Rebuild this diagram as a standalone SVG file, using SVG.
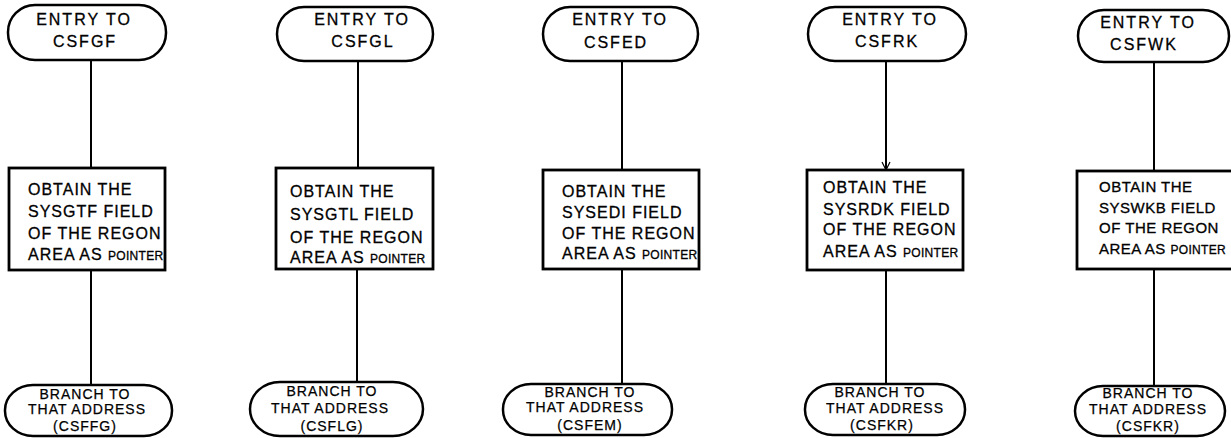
<svg xmlns="http://www.w3.org/2000/svg" width="1231" height="438" viewBox="0 0 1231 438">
<style>
.term{fill:#fff;stroke:#000;stroke-width:2.5}
.box{fill:#fff;stroke:#000;stroke-width:2.8}
.ln{stroke:#000;stroke-width:2;fill:none}
.t{font-family:"Liberation Sans",Arial,sans-serif;fill:#000;font-size:16px;letter-spacing:2px;text-anchor:middle;stroke:#000;stroke-width:0.3}
.b{font-family:"Liberation Sans",Arial,sans-serif;fill:#000;font-size:16px;letter-spacing:1px;stroke:#000;stroke-width:0.3}
.b5{font-size:15px;letter-spacing:0.5px}
.s{font-size:12px;letter-spacing:0.3px}
.o{font-family:"Liberation Sans",Arial,sans-serif;fill:#000;font-size:14px;letter-spacing:1px;text-anchor:middle;stroke:#000;stroke-width:0.25}
</style>
<defs>
<marker id="ah" markerWidth="10" markerHeight="10" refX="9" refY="5" orient="auto" markerUnits="userSpaceOnUse">
<path d="M1,1 L9,5 L1,9" fill="none" stroke="#000" stroke-width="1.2"/>
</marker>
</defs>
<g id="connectors">
<line class="ln" x1="91" y1="60" x2="91" y2="168"/>
<line class="ln" x1="91" y1="270" x2="91" y2="386"/>
<line class="ln" x1="358" y1="61" x2="358" y2="168"/>
<line class="ln" x1="357" y1="269" x2="357" y2="382"/>
<line class="ln" x1="622" y1="61" x2="622" y2="170"/>
<line class="ln" x1="622" y1="269" x2="622" y2="384"/>
<line class="ln" x1="886" y1="61" x2="886" y2="170" marker-end="url(#ah)"/>
<line class="ln" x1="886" y1="270" x2="886" y2="384"/>
<line class="ln" x1="1154" y1="62" x2="1154" y2="171"/>
<line class="ln" x1="1154" y1="269" x2="1154" y2="386"/>
</g>
<g id="entry1"><rect class="term" x="8" y="5" width="158" height="55" rx="27"/>
<text class="t" x="84" y="25">ENTRY TO</text><text class="t" x="85" y="47">CSFGF</text></g>
<g id="entry2"><rect class="term" x="277" y="7" width="156" height="54" rx="27"/>
<text class="t" x="362" y="25">ENTRY TO</text><text class="t" x="363" y="47">CSFGL</text></g>
<g id="entry3"><rect class="term" x="543" y="7" width="155" height="54" rx="27"/>
<text class="t" x="620" y="25">ENTRY TO</text><text class="t" x="616" y="48">CSFED</text></g>
<g id="entry4"><rect class="term" x="808" y="7" width="158" height="54" rx="27"/>
<text class="t" x="890" y="25">ENTRY TO</text><text class="t" x="887" y="47">CSFRK</text></g>
<g id="entry5"><rect class="term" x="1078" y="10" width="151" height="52" rx="26"/>
<text class="t" x="1148" y="28">ENTRY TO</text><text class="t" x="1144" y="50">CSFWK</text></g>
<g id="obtain1"><rect class="box" x="9" y="168" width="156" height="102"/>
<text class="b" x="28" y="195">OBTAIN THE</text><text class="b" x="28" y="217">SYSGTF FIELD</text><text class="b" x="28" y="239">OF THE REGON</text><text class="b" x="28" y="260">AREA AS <tspan class="s">POINTER</tspan></text></g>
<g id="obtain2"><rect class="box" x="276" y="168" width="157" height="101"/>
<text class="b" x="290" y="197">OBTAIN THE</text><text class="b" x="290" y="220">SYSGTL FIELD</text><text class="b" x="290" y="243">OF THE REGON</text><text class="b" x="290" y="263">AREA AS <tspan class="s">POINTER</tspan></text></g>
<g id="obtain3"><rect class="box" x="543" y="170" width="156" height="99"/>
<text class="b" x="562" y="197">OBTAIN THE</text><text class="b" x="562" y="218">SYSEDI FIELD</text><text class="b" x="562" y="239">OF THE REGON</text><text class="b" x="562" y="259">AREA AS <tspan class="s">POINTER</tspan></text></g>
<g id="obtain4"><rect class="box" x="807" y="170" width="156" height="100"/>
<text class="b" x="823" y="193">OBTAIN THE</text><text class="b" x="823" y="215">SYSRDK FIELD</text><text class="b" x="823" y="235">OF THE REGON</text><text class="b" x="823" y="257">AREA AS <tspan class="s">POINTER</tspan></text></g>
<g id="obtain5"><rect class="box" x="1077" y="171" width="170" height="98"/>
<text class="b b5" x="1099" y="192">OBTAIN THE</text><text class="b b5" x="1099" y="213">SYSWKB FIELD</text><text class="b b5" x="1099" y="233">OF THE REGON</text><text class="b b5" x="1099" y="254">AREA AS <tspan class="s">POINTER</tspan></text></g>
<g id="branch1"><rect class="term" x="5" y="385" width="167" height="51" rx="28" ry="25"/>
<text class="o" x="85" y="399">BRANCH TO</text><text class="o" x="87" y="414">THAT ADDRESS</text><text class="o" x="85" y="431">(CSFFG)</text></g>
<g id="branch2"><rect class="term" x="250" y="382" width="173" height="54" rx="30" ry="27"/>
<text class="o" x="332" y="396">BRANCH TO</text><text class="o" x="330" y="413">THAT ADDRESS</text><text class="o" x="332" y="431">(CSFLG)</text></g>
<g id="branch3"><rect class="term" x="503" y="384" width="169" height="51" rx="28" ry="25"/>
<text class="o" x="590" y="397">BRANCH TO</text><text class="o" x="585" y="412">THAT ADDRESS</text><text class="o" x="590" y="430">(CSFEM)</text></g>
<g id="branch4"><rect class="term" x="805" y="384" width="160" height="51" rx="28" ry="25"/>
<text class="o" x="880" y="397">BRANCH TO</text><text class="o" x="885" y="413">THAT ADDRESS</text><text class="o" x="882" y="430">(CSFKR)</text></g>
<g id="branch5"><rect class="term" x="1075" y="386" width="150" height="50" rx="28" ry="25"/>
<text class="o" x="1148" y="398">BRANCH TO</text><text class="o" x="1148" y="414">THAT ADDRESS</text><text class="o" x="1148" y="431">(CSFKR)</text></g>
</svg>
